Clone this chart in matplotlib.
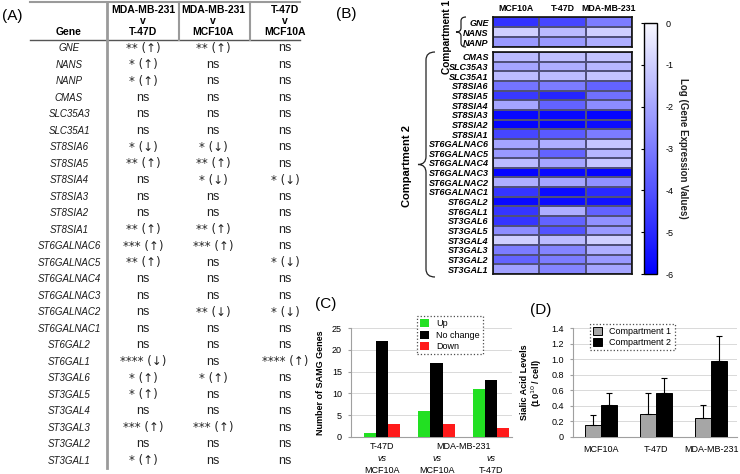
import numpy as np
import matplotlib
matplotlib.use("Agg")
import matplotlib.pyplot as plt
from matplotlib.colors import LinearSegmentedColormap
from matplotlib.path import Path
from matplotlib.patches import PathPatch
from matplotlib.ticker import FuncFormatter

plt.rcParams['font.family'] = ['Liberation Sans', 'DejaVu Sans']

# ---------------- data ----------------
table_genes = ["GNE", "NANS", "NANP", "CMAS", "SLC35A3", "SLC35A1", "ST8SIA6", "ST8SIA5",
               "ST8SIA4", "ST8SIA3", "ST8SIA2", "ST8SIA1", "ST6GALNAC6", "ST6GALNAC5",
               "ST6GALNAC4", "ST6GALNAC3", "ST6GALNAC2", "ST6GALNAC1", "ST6GAL2", "ST6GAL1",
               "ST3GAL6", "ST3GAL5", "ST3GAL4", "ST3GAL3", "ST3GAL2", "ST3GAL1"]
table_headers = ["MDA-MB-231\nv\nT-47D", "MDA-MB-231\nv\nMCF10A", "T-47D\nv\nMCF10A"]
col_mda_t47d = ["** (↑)", "* (↑)", "* (↑)", "ns", "ns", "ns", "* (↓)", "** (↑)", "ns", "ns", "ns",
                "** (↑)", "*** (↑)", "** (↑)", "ns", "ns", "ns", "ns", "ns", "**** (↓)", "* (↑)",
                "* (↑)", "ns", "*** (↑)", "ns", "* (↑)"]
col_mda_mcf = ["** (↑)", "ns", "ns", "ns", "ns", "ns", "* (↓)", "** (↑)", "* (↓)", "ns", "ns",
               "** (↑)", "*** (↑)", "ns", "ns", "ns", "** (↓)", "ns", "ns", "ns", "* (↑)",
               "ns", "ns", "*** (↑)", "ns", "ns"]
col_t47d_mcf = ["ns", "ns", "ns", "ns", "ns", "ns", "ns", "ns", "* (↓)", "ns", "ns", "ns", "ns",
                "* (↓)", "ns", "ns", "* (↓)", "ns", "ns", "**** (↑)", "ns", "ns", "ns", "ns",
                "ns", "ns"]

heat_cols = ["MCF10A", "T-47D", "MDA-MB-231"]
comp1_genes = ["GNE", "NANS", "NANP"]
comp1_vals = [[-4.8, -4.3, -3.0],
              [-1.0, -1.5, -1.0],
              [-2.3, -2.3, -1.8]]
comp2_genes = ["CMAS", "SLC35A3", "SLC35A1", "ST8SIA6", "ST8SIA5", "ST8SIA4", "ST8SIA3",
               "ST8SIA2", "ST8SIA1", "ST6GALNAC6", "ST6GALNAC5", "ST6GALNAC4", "ST6GALNAC3",
               "ST6GALNAC2", "ST6GALNAC1", "ST6GAL2", "ST6GAL1", "ST3GAL6", "ST3GAL5",
               "ST3GAL4", "ST3GAL3", "ST3GAL2", "ST3GAL1"]
comp2_vals = [[-1.5, -1.4, -1.3],
              [-2.0, -1.8, -1.6],
              [-1.5, -1.5, -1.3],
              [-3.2, -3.0, -3.6],
              [-4.6, -5.1, -3.3],
              [-2.0, -3.6, -2.6],
              [-5.8, -5.8, -5.9],
              [-5.9, -5.9, -5.7],
              [-4.3, -3.8, -3.0],
              [-2.0, -1.8, -1.2],
              [-2.3, -3.6, -1.6],
              [-1.5, -2.0, -1.2],
              [-5.9, -5.8, -5.9],
              [-1.8, -2.0, -2.5],
              [-4.7, -5.7, -5.0],
              [-5.8, -5.7, -5.6],
              [-4.7, -1.8, -3.6],
              [-4.7, -3.6, -2.5],
              [-2.6, -4.0, -2.3],
              [-1.0, -1.5, -1.0],
              [-3.0, -2.8, -1.8],
              [-3.6, -3.0, -2.3],
              [-2.1, -2.8, -2.0]]

c_groups = ["T-47D vs MCF10A", "MDA-MB-231 vs MCF10A", "MDA-MB-231 vs T-47D"]
c_up = [1, 6, 11]
c_nochange = [22, 17, 13]
c_down = [3, 3, 2]

d_cells = ["MCF10A", "T-47D", "MDA-MB-231"]
d_comp1 = [0.15, 0.29, 0.25]
d_comp1_err = [0.13, 0.27, 0.16]
d_comp2 = [0.41, 0.57, 0.97]
d_comp2_err = [0.15, 0.19, 0.33]

# ---------------- figure ----------------
W, H = 740, 474
fig = plt.figure(figsize=(W / 100, H / 100), dpi=100)


def px(x0, y0, x1, y1):
    return [x0 / W, 1 - y1 / H, (x1 - x0) / W, (y1 - y0) / H]


ov = fig.add_axes([0, 0, 1, 1])
ov.set_xlim(0, W)
ov.set_ylim(H, 0)
ov.axis('off')
ov.patch.set_alpha(0)

# panel labels
for lab, (x, y) in {"(A)": (12, 16), "(B)": (346, 14), "(C)": (326, 304), "(D)": (541, 310)}.items():
    ov.text(x, y, lab, fontsize=11, ha='center', va='center')

# ---------------- panel A (table) ----------------
gray = '#9a9a9a'
ov.plot([30, 300], [2, 2], color=gray, lw=1.5)
ov.plot([30, 300], [39.5, 39.5], color='#555555', lw=1.0)
ov.plot([107, 107], [2, 468], color=gray, lw=2)
for xs in (179, 250):
    ov.plot([xs, xs], [2, 39.5], color=gray, lw=1.5)
ov.text(69, 32, "Gene", fontsize=7.5, fontweight='bold', ha='center', va='center')
col_x = [143, 213, 285]
for cx, hdr in zip(col_x, table_headers):
    for k, line in enumerate(hdr.split("\n")):
        ov.text(cx, 10 + 11 * k, line, fontsize=7.5, fontweight='bold', ha='center', va='center')
row0, dy = 48.3, 16.5
for i, g in enumerate(table_genes):
    y = row0 + dy * i
    ov.text(69, y, g, fontsize=7, style='italic', ha='center', va='center', color='#1a1a1a')
    for cx, col in zip(col_x, [col_mda_t47d, col_mda_mcf, col_t47d_mcf]):
        s = col[i]
        if s == "ns":
            ov.text(cx, y, s, fontsize=9, ha='center', va='center', color='#222222')
        else:
            ov.text(cx, y, s, fontsize=8.5, ha='center', va='center', color='#222222',
                    family=['DejaVu Sans'])

# ---------------- panel B (heatmap) ----------------
cmap = LinearSegmentedColormap.from_list("wb", ["#0000ff", "#f8f8ff"])
hm1 = fig.add_axes(px(493, 17, 632, 47))
hm2 = fig.add_axes(px(493, 52, 632, 274))
for ax, genes, vals in [(hm1, comp1_genes, comp1_vals), (hm2, comp2_genes, comp2_vals)]:
    m = ax.pcolormesh(np.array(vals), cmap=cmap, vmin=-6, vmax=0,
                      edgecolors='#50507a', linewidth=0.35)
    ax.set_ylim(len(genes), 0)
    ax.set_xlim(0, 3)
    ax.set_yticks(np.arange(len(genes)) + 0.5)
    ax.set_yticklabels(genes, fontsize=6.5, fontweight='bold', style='italic')
    ax.tick_params(axis='y', length=0, pad=3)
    ax.set_xticks([])
    for sp in ax.spines.values():
        sp.set_linewidth(1.2)
        sp.set_color('#111111')
hm1.xaxis.set_ticks_position('top')
hm1.set_xticks(np.arange(3) + 0.5)
hm1.set_xticklabels(heat_cols, fontsize=6.3, fontweight='bold')
hm1.tick_params(axis='x', length=0, pad=3)

cax = fig.add_axes(px(644, 23, 657, 274))
cb = fig.colorbar(m, cax=cax, ticks=[0, -1, -2, -3, -4, -5, -6])
cb.outline.set_linewidth(1.0)
cax.tick_params(left=True, right=False, labelleft=False, labelright=True,
                length=2.5, width=0.8, labelsize=6.5, pad=4)
cax.set_yticklabels(["0", "-1", "-2", "-3", "-4", "-5", "-6"])
ov.text(683, 148, "Log (Gene Expression Values)", fontsize=7, fontweight='bold',
        rotation=270, ha='center', va='center', color='#222222')


def brace(xv, xt, xh, y0, y1, r):
    ym = (y0 + y1) / 2
    verts = [(xh, y0), (xv, y0), (xv, y0 + r),
             (xv, ym - r), (xv, ym), (xt, ym),
             (xv, ym), (xv, ym + r),
             (xv, y1 - r), (xv, y1), (xh, y1)]
    codes = [Path.MOVETO, Path.CURVE3, Path.CURVE3,
             Path.LINETO, Path.CURVE3, Path.CURVE3,
             Path.CURVE3, Path.CURVE3,
             Path.LINETO, Path.CURVE3, Path.CURVE3]
    ov.add_patch(PathPatch(Path(verts, codes), fill=False, lw=0.9, color='#222222'))


brace(461, 456, 466, 17, 47, 4)
brace(426, 418, 435, 52, 277, 8)
ov.text(447, 37, "Compartment 1", fontsize=7.3, fontweight='bold', rotation=90,
        ha='center', va='center')
ov.text(407, 166, "Compartment 2", fontsize=8, fontweight='bold', rotation=90,
        ha='center', va='center')

# ---------------- panel C ----------------
axc = fig.add_axes(px(351, 328, 512, 437))
xg = np.arange(len(c_groups))
bw = 0.226
axc.bar(xg - bw, c_up, bw, color='#22e022', label='Up', zorder=3)
axc.bar(xg, c_nochange, bw, color='#000000', label='No change', zorder=3)
axc.bar(xg + bw, c_down, bw, color='#ff1a1a', label='Down', zorder=3)
axc.set_xlim(-0.569, 2.385)
axc.set_ylim(0, 25)
axc.set_yticks([0, 5, 10, 15, 20, 25])
axc.yaxis.grid(True, color='#d9d9d9', lw=0.7, zorder=0)
axc.set_xticks([])
for s in ('top', 'right'):
    axc.spines[s].set_visible(False)
for s in ('left', 'bottom'):
    axc.spines[s].set_color('#a0a0a0')
axc.tick_params(axis='y', labelsize=6.5, length=2.5, color='#a0a0a0', pad=4)
axc.set_ylabel("Number of SAMG Genes", fontsize=6.5, fontweight='bold', labelpad=5)
leg = axc.legend(loc='upper left', bbox_to_anchor=(0.41, 1.11), fontsize=6.5, frameon=True,
                 fancybox=False, handlelength=1.0, handleheight=1.0, borderpad=0.35,
                 labelspacing=0.25, handletextpad=0.8, borderaxespad=0)
leg.get_frame().set_linestyle(':')
leg.get_frame().set_edgecolor('#222222')
leg.get_frame().set_linewidth(0.9)

# x labels for C
tr = axc.get_xaxis_transform()
labs = [(0, "T-47D", "MCF10A"), (1, None, "MCF10A"), (2, None, "T-47D")]
for xi, top, bot in labs:
    if top:
        axc.text(xi, -0.09, top, transform=tr, fontsize=6.5, ha='center', va='center')
    axc.text(xi, -0.2, "vs", transform=tr, fontsize=6.5, style='italic', ha='center', va='center')
    axc.text(xi, -0.31, bot, transform=tr, fontsize=6.5, ha='center', va='center')
axc.text(1.5, -0.09, "MDA-MB-231", transform=tr, fontsize=6.5, ha='center', va='center')

# ---------------- panel D ----------------
axd = fig.add_axes(px(573, 328, 737, 437))
xd = np.arange(len(d_cells))
bwd = 0.29
axd.bar(xd - bwd / 2, d_comp1, bwd, color='#a6a6a6', edgecolor='#000000', lw=0.7,
        label='Compartment 1', zorder=3,
        yerr=[np.zeros(3), d_comp1_err], error_kw=dict(ecolor='black', lw=0.8, capsize=2.5, capthick=0.8))
axd.bar(xd + bwd / 2, d_comp2, bwd, color='#000000', edgecolor='#000000', lw=0.7,
        label='Compartment 2', zorder=3,
        yerr=[np.zeros(3), d_comp2_err], error_kw=dict(ecolor='black', lw=0.8, capsize=2.5, capthick=0.8))
axd.set_xlim(-0.51, 2.47)
axd.set_ylim(0, 1.4)
axd.set_yticks(np.arange(0, 1.41, 0.2))
axd.yaxis.set_major_formatter(FuncFormatter(lambda v, p: "0" if abs(v) < 1e-9 else f"{v:.1f}"))
axd.yaxis.grid(True, color='#d9d9d9', lw=0.7, zorder=0)
axd.set_xticks(xd)
axd.set_xticklabels(d_cells, fontsize=6.5)
axd.tick_params(axis='x', length=0, pad=6)
for s in ('top', 'right'):
    axd.spines[s].set_visible(False)
for s in ('left', 'bottom'):
    axd.spines[s].set_color('#a0a0a0')
axd.tick_params(axis='y', labelsize=6.5, length=2.5, color='#a0a0a0', pad=4)
axd.set_ylabel("Sialic Acid Levels\n(10$^{10}$ / cell)", fontsize=6.5, fontweight='bold',
               labelpad=5, linespacing=1.1)
legd = axd.legend(loc='upper left', bbox_to_anchor=(0.104, 1.04), fontsize=6.5, frameon=True,
                  fancybox=False, handlelength=1.0, handleheight=1.0, borderpad=0.35,
                  labelspacing=0.25, handletextpad=0.8, borderaxespad=0)
legd.get_frame().set_linestyle(':')
legd.get_frame().set_edgecolor('#222222')
legd.get_frame().set_linewidth(0.9)

fig.savefig("out.png", dpi=100)
